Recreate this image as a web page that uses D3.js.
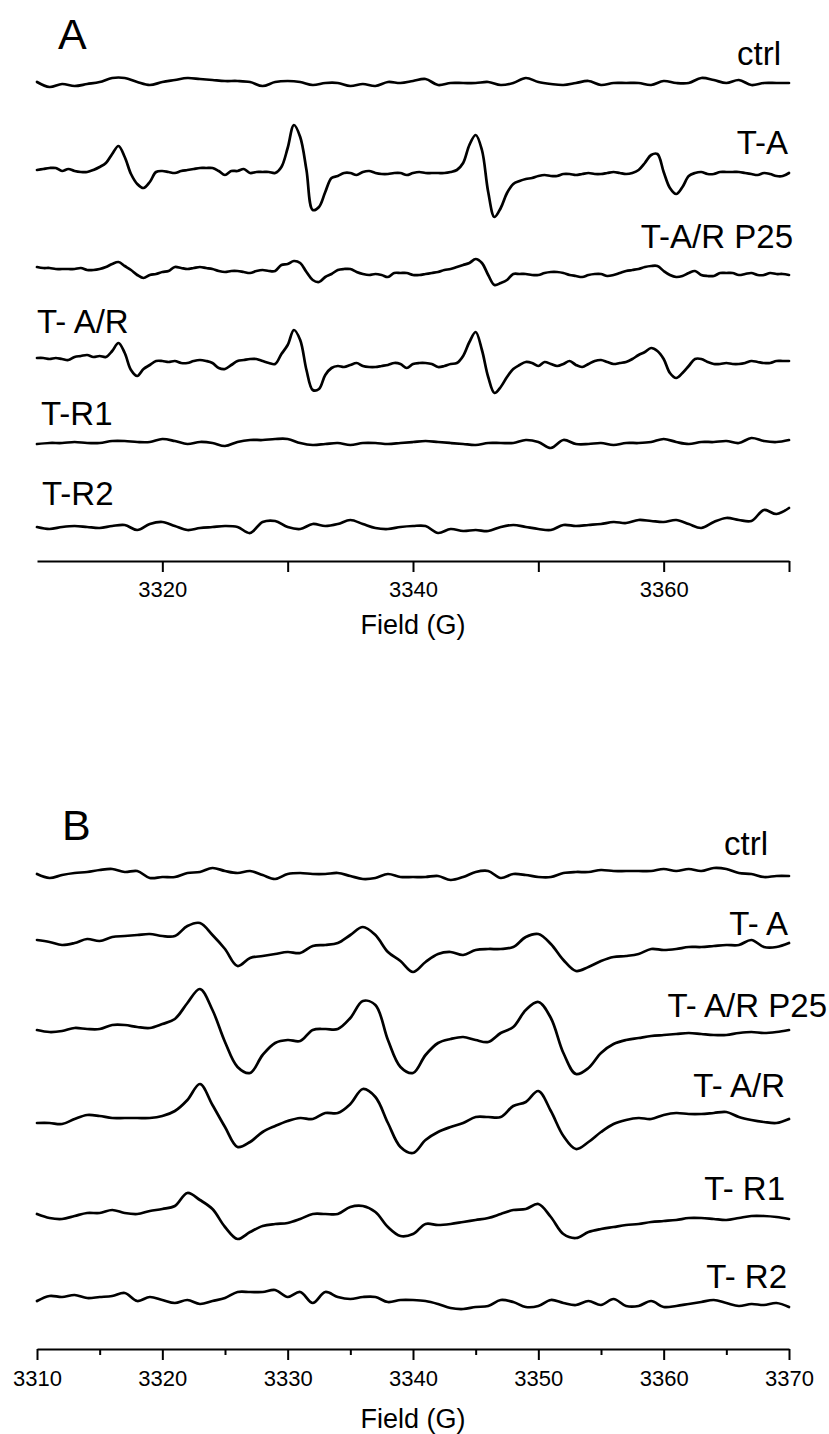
<!DOCTYPE html>
<html>
<head>
<meta charset="utf-8">
<title>EPR spectra</title>
<script src="https://cdn.jsdelivr.net/npm/d3@7"></script>
<style>
  body { margin: 0; background: #ffffff; }
  svg { display: block; font-family: "Liberation Sans", Arial, Helvetica, sans-serif; }
</style>
</head>
<body>
<div id="chart"></div>
<script>
/** Field sweep in gauss: 1 G steps for the flat traces, 0.5 G steps for the sharp DMPO lines */
var fieldCoarse = d3.range(3310, 3370.001, 1);
var fieldFine = d3.range(3310, 3370.001, 0.5);

/** Panel A intensities (a.u.) */
var ctrlA = [1,-4,-1,-3,-1,1,5,5,1,-2, 1,3,5,4,3,2,2,1,-3,1, 2,1,-2,0,0,-3,-1,-3,1,0,
  2,4,-2,0,0,0,1,-2,0,5, 1,-1,-2,0,2,-2,0,0,0,-2, 2,0,0,5,3,0,3,-2,0,0, 0];
var tA_A = [0,1,2,2,-1,1,-1,-2,-2,0, 3,7,16,24,13,-4,-14,-18,-12,-2,
  -1,-2,-3,-1,0,1,2,2,2,-1, -5,-1,-1,1,-3,-2,-2,-2,-3,3,
  22,45,33,0,-40,-37,-22,-8,-6,-3, -3,-5,-2,-1,-3,-4,-4,-3,-3,-5,
  -3,-2,-3,-3,-3,-3,-2,0,7,25, 35,20,-22,-47,-38,-23,-14,-11,-9,-8,
  -6,-5,-6,-6,-4,-4,-5,-4,-3,-4, -4,-3,-2,-3,-4,-3,0,7,15,16,
  -2,-18,-24,-17,-6,-3,-2,-4,-4,-2, -2,-2,-2,-3,-4,-5,-3,-4,-6,-6, -3];
var tAR_P25_A = [3,2,2,1,1,1,1,2,0,0, 1,3,6,8,4,0,-5,-8,-5,-4,
  -2,-1,3,2,1,2,3,2,1,-1, -2,-1,-1,-2,-3,-1,0,-1,-1,5,
  6,9,7,-2,-10,-12,-7,-4,0,1, 1,-2,-4,-5,-4,-5,-7,-3,-3,-3,
  -5,-5,-4,-3,-2,0,1,3,5,7, 11,7,-5,-15,-13,-10,-4,-4,-4,-5,
  -5,-3,-2,-2,-3,-5,-6,-7,-5,-4, -4,-6,-5,-3,-1,0,1,3,4,4,
  -1,-5,-7,-6,-3,-1,-5,-6,-6,-3, -3,-3,-5,-4,-3,-5,-5,-3,-4,-4, -5];
var tAR_A = [0,0,-1,0,-1,-2,1,2,3,1, 2,1,7,15,5,-12,-18,-11,-7,-3,
  -3,-4,-3,-5,-5,-3,-2,-3,-5,-10, -11,-7,-3,-2,-1,-1,-3,-5,-6,4,
  13,28,18,-12,-32,-31,-17,-10,-8,-9, -7,-5,-8,-9,-9,-8,-7,-5,-6,-10,
  -6,-5,-5,-6,-9,-8,-6,-5,2,16, 26,8,-19,-35,-29,-19,-11,-7,-4,-5,
  -8,-4,-6,-8,-6,-3,-7,-9,-6,-3, -2,-4,-6,-5,-4,-1,3,6,10,7,
  -1,-15,-20,-15,-8,-1,-1,-4,-6,-6, -5,-6,-6,-5,-3,-4,-5,-5,-3,-3, -3];
var tR1_A = [-1,0,0,1,0,0,2,2,1,1, 4,2,-1,1,0,-3,1,3,3,4, 4,0,-2,-1,0,-2,0,0,-1,0,
  1,2,1,0,-1,-2,0,0,0,3, 1,-5,3,-1,-1,0,-2,0,0,1, 4,1,-1,1,1,2,0,5,2,1, 3];
var tR2_A = [0,-2,0,1,0,-1,1,2,-3,3, 5,1,-3,-1,0,1,0,-6,5,6, 0,-2,3,1,3,7,3,-1,-2,0,
  1,1,-6,-2,-4,-3,-4,0,2,0, -2,-3,2,1,2,3,5,4,7,6, 5,7,3,-1,5,9,7,6,17,13, 19];

/** Panel B intensities (a.u.) */
var ctrlB = [1,-3,0,2,3,5,6,3,4,-3, -2,-2,2,3,7,4,2,4,0,-4, 1,2,1,1,2,-1,-4,-3,1,-2,
  -2,-2,-1,-5,-2,3,4,-3,1,0, -2,-2,2,3,3,5,4,4,4,4, 6,4,6,4,7,6,2,1,-2,-1, -1];
var tA_B = [9,7,4,6,10,8,12,13,14,15, 13,13,23,26,14,0,-17,-9,-7,-5,
  -3,-4,3,4,6,14,22,14,-3,-12, -23,-13,-5,-3,-6,-1,0,0,2,12,
  15,5,-11,-22,-18,-12,-8,-7,-5,0, -1,0,2,2,3,4,4,9,2,2, 6];
var tAR_P25_B = [0,-2,-1,2,1,1,5,5,3,2, 6,11,27,41,20,-12,-37,-43,-25,-13,
  -10,-11,0,1,1,12,29,25,-10,-37, -43,-25,-13,-9,-7,-10,-12,-3,3,20,
  28,12,-23,-44,-38,-23,-14,-10,-8,-6, -5,-4,-3,-4,-5,-5,-3,-2,-3,-2, 0];
var tAR_B = [-3,-3,-4,1,5,4,2,2,2,2, 4,9,20,36,15,-7,-27,-22,-12,-6,
  -1,2,1,7,7,16,31,23,-3,-27, -33,-20,-12,-7,-3,3,3,3,14,18,
  29,9,-16,-29,-22,-12,-4,0,2,1, 5,7,6,6,7,8,3,0,-2,-3, 1];
var tR1_B = [1,-3,-4,-1,2,2,5,2,1,4, 6,9,22,15,6,-12,-24,-17,-11,-9,
  -8,-4,1,1,1,8,9,3,-12,-21, -19,-9,-10,-9,-7,-5,-3,1,5,6,
  11,-2,-19,-23,-17,-14,-12,-10,-9,-7, -6,-5,-3,-3,-4,-5,-3,-1,-1,-2, -4];
var tR2_B = [-1,4,3,5,2,3,4,7,-1,3, 0,-3,0,-4,-1,2,8,8,8,10, 3,8,-3,8,3,1,3,3,-2,0,
  0,-1,-4,-8,-9,-7,-6,0,-2,-7, -6,0,-3,-5,-1,-5,1,-6,-6,-1, -7,-6,-4,-2,0,-3,-6,-4,-5,-3, -7];

/** Sample names and vertical stacking offsets (a.u.) */
var namesA = ["ctrl", "T-A", "T-A/R P25", "T- A/R", "T-R1", "T-R2"];
var offsetsA = [478, 391, 291, 203, 118, 34];
var namesB = ["ctrl", "T- A", "T- A/R P25", "T- A/R", "T- R1", "T- R2"];
var offsetsB = [474, 400, 319, 229, 134, 49];

/** Axis ticks */
var ticksA = [3320, 3330, 3340, 3350, 3360, 3370];
var tickLabelsA = [3320, 3340, 3360];
var ticksB = [3310, 3320, 3330, 3340, 3350, 3360, 3370];
var minorTicksB = [3315, 3325, 3335, 3345, 3355, 3365];

/**
 * @constructor
 * @param {Object} svg d3 selection of the svg.
 * @param {string} letter Panel letter.
 * @param {float} axisY Pixel row of the x axis.
 */
var SpectraPanel = function(svg, letter, axisY)
{
  this.svg = svg;
  this.letter = letter;
  this.axisY = axisY;
  this.x = d3.scaleLinear().domain([3310, 3370]).range([37, 789]);
  /** 1 a.u. = 1 px above the axis */
  this.y = d3.scaleLinear().domain([0, 530]).range([axisY, axisY - 530]);
  this.g = svg.append("g").attr("class", "panel-" + letter);
}

/**
 * @desc Draws the stacked spectra.
 * @param {Array} traces list of {field, values, offset}
 */
SpectraPanel.prototype.drawTraces = function(traces)
{
  var self = this;
  var line = d3.line()
    .x(function(d) { return self.x(d[0]); })
    .y(function(d) { return self.y(d[1]); })
    .curve(d3.curveCatmullRom.alpha(0.5));
  traces.forEach(function(t)
  {
    var pts = t.field.map(function(f, i) { return [f, t.offset + t.values[i]]; });
    self.g.append("path")
      .datum(pts)
      .attr("d", line)
      .attr("fill", "none")
      .attr("stroke", "#000")
      .attr("stroke-width", 2.7)
      .attr("stroke-linejoin", "round")
      .attr("stroke-linecap", "round");
  });
}

/**
 * @desc Sample labels, placed next to their trace.
 * @param {Array} names label texts
 * @param {Array} layout {x, y, anchor} per label
 */
SpectraPanel.prototype.drawLabels = function(names, layout)
{
  var self = this;
  names.forEach(function(n, i)
  {
    self.g.append("text")
      .attr("x", layout[i].x)
      .attr("y", layout[i].y)
      .attr("text-anchor", layout[i].anchor)
      .style("font-size", "33px")
      .text(n);
  });
  /** Panel letter */
  self.g.append("text")
    .attr("x", layout.letterX)
    .attr("y", layout.letterY)
    .style("font-size", "43px")
    .text(self.letter);
}

/**
 * @desc Bottom field axis with its title.
 */
SpectraPanel.prototype.drawAxis = function(major, labelled, minor, padding, titleY)
{
  var self = this;
  if (minor)
  {
    var minorAxis = d3.axisBottom(self.x).tickValues(minor).tickSize(6).tickSizeOuter(0).tickFormat("");
    self.g.append("g")
      .attr("transform", "translate(0," + self.axisY + ")")
      .call(minorAxis)
      .call(function(g) { g.select(".domain").remove(); });
  }
  var axis = d3.axisBottom(self.x)
    .tickValues(major)
    .tickSize(11)
    .tickSizeOuter(0)
    .tickPadding(padding)
    .tickFormat(function(v) { return labelled.indexOf(v) >= 0 ? String(v) : ""; });
  var ax = self.g.append("g")
    .attr("transform", "translate(0," + self.axisY + ")")
    .call(axis);
  ax.selectAll("path, line").attr("stroke", "#000").attr("stroke-width", 2);
  ax.selectAll("text")
    .attr("fill", "#000")
    .style("font-size", "22px")
    .style("font-family", "\"Liberation Sans\", Arial, sans-serif");
  self.svg.selectAll(".tick line").attr("stroke-width", 2);
  self.g.append("text")
    .attr("x", (self.x.range()[0] + self.x.range()[1]) / 2)
    .attr("y", titleY)
    .attr("text-anchor", "middle")
    .style("font-size", "27px")
    .text("Field (G)");
}

try
{
  var svg = d3.select("#chart").append("svg")
    .attr("width", 829)
    .attr("height", 1434);

  var panelA = new SpectraPanel(svg, "A", 561);
  panelA.drawTraces([
    { field: fieldCoarse, values: ctrlA, offset: offsetsA[0] },
    { field: fieldFine, values: tA_A, offset: offsetsA[1] },
    { field: fieldFine, values: tAR_P25_A, offset: offsetsA[2] },
    { field: fieldFine, values: tAR_A, offset: offsetsA[3] },
    { field: fieldCoarse, values: tR1_A, offset: offsetsA[4] },
    { field: fieldCoarse, values: tR2_A, offset: offsetsA[5] }
  ]);
  var layoutA = [
    { x: 781, y: 65, anchor: "end" },
    { x: 788, y: 154, anchor: "end" },
    { x: 793, y: 248, anchor: "end" },
    { x: 37, y: 333, anchor: "start" },
    { x: 41, y: 425, anchor: "start" },
    { x: 42, y: 505, anchor: "start" }
  ];
  layoutA.letterX = 58;
  layoutA.letterY = 49;
  panelA.drawLabels(namesA, layoutA);
  panelA.drawAxis(ticksA, tickLabelsA, null, 9, 634);

  var panelB = new SpectraPanel(svg, "B", 1349);
  panelB.drawTraces([
    { field: fieldCoarse, values: ctrlB, offset: offsetsB[0] },
    { field: fieldCoarse, values: tA_B, offset: offsetsB[1] },
    { field: fieldCoarse, values: tAR_P25_B, offset: offsetsB[2] },
    { field: fieldCoarse, values: tAR_B, offset: offsetsB[3] },
    { field: fieldCoarse, values: tR1_B, offset: offsetsB[4] },
    { field: fieldCoarse, values: tR2_B, offset: offsetsB[5] }
  ]);
  var layoutB = [
    { x: 768, y: 855, anchor: "end" },
    { x: 788, y: 935, anchor: "end" },
    { x: 827, y: 1017, anchor: "end" },
    { x: 785, y: 1097, anchor: "end" },
    { x: 785, y: 1200, anchor: "end" },
    { x: 787, y: 1288, anchor: "end" }
  ];
  layoutB.letterX = 62;
  layoutB.letterY = 840;
  panelB.drawLabels(namesB, layoutB);
  panelB.drawAxis(ticksB, ticksB, minorTicksB, 10, 1428);
}
catch(err)
{
  throw "Unexpected error while drawing spectra. " + err;
}
</script>
</body>
</html>
